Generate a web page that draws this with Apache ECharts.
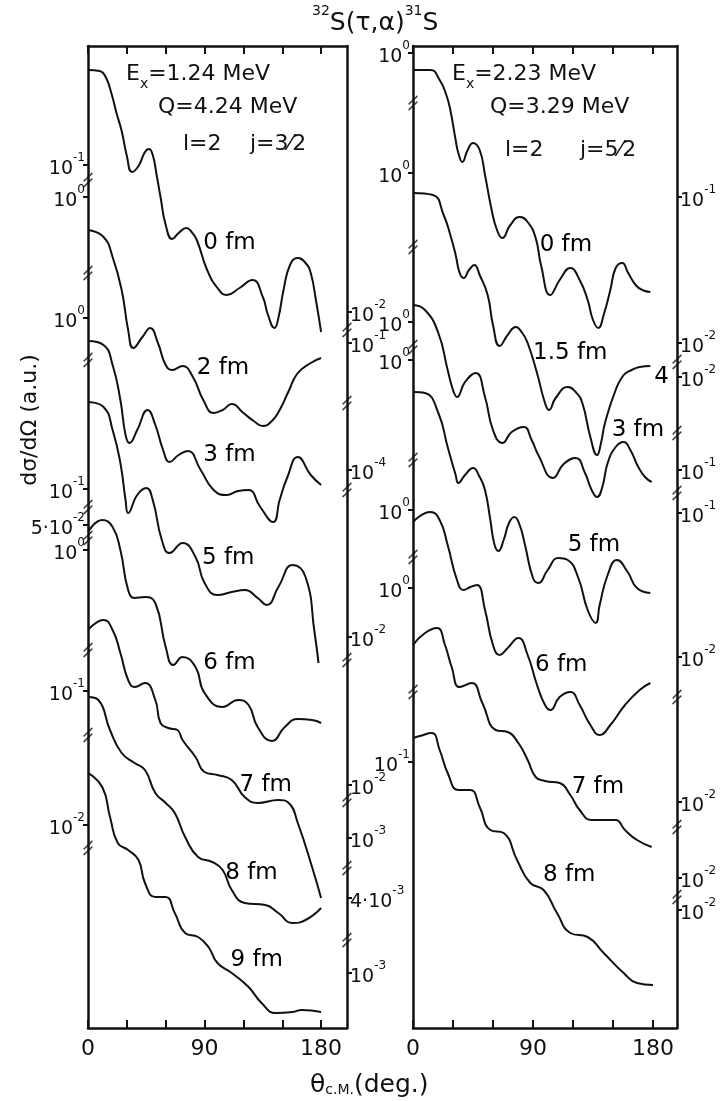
<!DOCTYPE html>
<html><head><meta charset="utf-8">
<script src="https://cdn.jsdelivr.net/npm/echarts@6/dist/echarts.min.js"></script>
<style>html,body{margin:0;padding:0;background:#fff}#c{width:721px;height:1101px}</style>
</head><body><div id="c"></div>
<script>
// ---- data: [angle (deg), vertical offset-log units] ----
const L0 = [[0,958],[9,957],[14,950],[18,935],[22,915],[26,897],[30,872],[34,856],[39,862],[44,876],[47,879],[50,873],[53,853],[56,831],[60,803],[65,789],[70,795],[76,800],[80,796],[84,788],[92,758],[100,740],[107,733],[117,740],[127,748],[135,731],[139,713],[144,700],[147,710],[151,738],[156,763],[162,770],[168,765],[172,755],[176,728],[180,696]];
const L2 = [[0,798],[12,791],[19,771],[26,738],[31,698],[35,680],[42,691],[48,700],[54,685],[60,663],[65,658],[73,662],[81,651],[89,628],[97,615],[104,618],[111,624],[120,615],[128,607],[135,602],[142,607],[148,618],[155,637],[162,655],[172,665],[180,670]];
const L3 = [[0,687],[12,683],[19,663],[25,628],[29,593],[32,585],[38,598],[46,618],[52,603],[58,578],[63,566],[70,573],[77,577],[87,558],[97,538],[107,533],[116,537],[124,538],[133,521],[143,506],[148,528],[154,551],[162,571],[172,553],[180,543]];
const L5 = [[0,626],[12,621],[19,598],[25,565],[29,528],[31,515],[38,533],[45,540],[50,528],[57,488],[63,475],[73,485],[83,471],[90,445],[100,433],[111,436],[121,438],[131,430],[138,423],[147,441],[158,463],[168,451],[175,395],[178,365]];
const L6 = [[0,496],[11,508],[19,501],[25,478],[31,438],[36,430],[44,431],[52,425],[60,381],[66,363],[73,371],[83,361],[90,335],[104,321],[116,328],[124,323],[131,301],[142,287],[152,301],[162,309],[173,308],[180,305]];
const L7 = [[0,398],[12,408],[19,398],[25,375],[31,348],[36,341],[44,345],[52,328],[56,305],[62,300],[69,298],[73,288],[83,271],[90,256],[100,253],[111,248],[121,231],[131,225],[147,228],[155,225],[162,205],[173,161],[180,130]];
const L8 = [[0,331],[8,328],[17,298],[26,275],[36,265],[44,258],[52,235],[60,225],[67,215],[75,191],[85,171],[96,166],[104,158],[111,138],[121,125],[137,123],[147,115],[158,105],[168,108],[180,120]];
const L9 = [[0,255],[11,241],[17,211],[23,185],[31,178],[39,168],[44,145],[52,131],[60,131],[67,115],[75,95],[85,91],[93,81],[100,65],[111,55],[124,41],[134,25],[145,15],[158,16],[165,18],[180,16]];

const R0 = [[0,958],[13,958],[20,948],[25,933],[28,918],[32,888],[34,875],[37,866],[41,878],[45,885],[50,878],[54,853],[59,818],[63,798],[67,790],[73,803],[80,811],[86,806],[92,790],[96,763],[103,733],[110,748],[118,760],[125,748],[131,728],[135,708],[139,700],[143,713],[148,738],[152,760],[157,765],[161,756],[167,743],[172,738],[178,736]];
const R15 = [[0,835],[15,833],[23,813],[28,793],[32,773],[35,755],[38,750],[42,758],[46,763],[50,753],[56,733],[60,703],[65,682],[71,693],[77,701],[82,695],[86,685],[93,655],[99,625],[102,618],[107,630],[116,641],[122,636],[127,625],[133,591],[138,573],[141,585],[144,605],[152,638],[158,653],[164,658],[170,661],[178,662]];
const R3 = [[0,723],[9,718],[19,695],[26,658],[30,638],[33,631],[39,646],[47,655],[54,631],[60,598],[67,585],[74,596],[83,601],[89,588],[94,573],[105,550],[113,564],[122,570],[129,555],[134,538],[138,531],[142,541],[146,565],[152,581],[158,586],[163,578],[169,561],[174,551],[179,546]];
const R5 = [[0,636],[9,635],[19,615],[26,581],[32,553],[34,545],[39,553],[45,560],[50,551],[54,538],[58,508],[61,484],[64,477],[68,488],[72,505],[76,511],[80,503],[84,483],[90,450],[94,445],[101,458],[109,470],[116,468],[124,450],[131,418],[137,405],[140,423],[146,453],[153,468],[161,456],[168,440],[178,435]];
const R6 = [[0,506],[13,516],[20,508],[26,483],[33,448],[38,438],[43,441],[48,443],[54,418],[60,383],[65,373],[71,380],[79,390],[86,373],[93,343],[99,323],[103,318],[110,331],[118,336],[125,323],[133,303],[140,293],[148,303],[159,323],[170,338],[178,345]];
const R7 = [[0,383],[9,395],[18,400],[24,383],[29,361],[35,341],[44,345],[52,325],[62,298],[71,296],[79,285],[86,268],[92,251],[99,247],[110,245],[118,233],[125,218],[134,208],[144,208],[152,208],[159,198],[168,188],[179,181]];
const R8 = [[0,290],[5,292],[14,295],[20,278],[26,255],[34,238],[43,238],[50,221],[58,198],[68,195],[78,168],[88,145],[98,138],[108,115],[118,95],[131,91],[143,75],[158,55],[168,45],[180,43]];

const leftCurves = [L0, L2, L3, L5, L6, L7, L8, L9];
const rightCurves = [R0, R15, R3, R5, R6, R7, R8];
const leftCurveLabels = [[89,785,'0 fm'],[84,660,'2 fm'],[89,573,'3 fm'],[88,470,'5 fm'],[89,365,'6 fm'],[117,243,'7 fm'],[106,155,'8 fm'],[110,68,'9 fm']];
const rightCurveLabels = [[95,783,'0 fm'],[90,675,'1.5 fm'],[149,598,'3 fm'],[116,483,'5 fm'],[91.5,363,'6 fm'],[119,241,'7 fm'],[97.5,153,'8 fm']];
const rightExtraText = [[181,651,'4']];

// tick labels on the four vertical axes: [position, label]
const leftPanelLeftTicks = [[863,'10^-1'],[831,'10^0'],[710,'10^0'],[539,'10^-1'],[503,'5·10^-2'],[478,'10^0'],[337,'10^-1'],[203,'10^-2']];
const leftPanelRightTicks = [[716,'10^-2'],[685,'10^-1'],[558,'10^-4'],[391,'10^-2'],[243,'10^-2'],[190,'10^-3'],[130,'4·10^-3'],[55,'10^-3']];
const rightPanelLeftTicks = [[975,'10^0'],[855,'10^0'],[706,'10^0'],[668,'10^0'],[518,'10^0'],[440,'10^0'],[266,'10^-1']];
const rightPanelRightTicks = [[831,'10^-1'],[685,'10^-2'],[651,'10^-2'],[558,'10^-1'],[515,'10^-1'],[371,'10^-2'],[226,'10^-2'],[150,'10^-2'],[118,'10^-2']];
// axis break marks
const leftPanelLeftBreaks = [848,755,668,521,490,378,293,180];
const leftPanelRightBreaks = [698,625,538,368,228,160,88];
const rightPanelLeftBreaks = [925,781,681,568,471,336];
const rightPanelRightBreaks = [666,595,535,331,201,131];
const xTickValues = [0,30,60,90,120,150,180];
const xLabelValues = [0,90,180];

// ---- chart ----
const INK = '#111111';
const FONT = 'DejaVu Sans';
const chart = echarts.init(document.getElementById('c'));

function toRich(s){
  const m = s.match(/^(.*?)10\^(.+)$/);
  if(!m) return '{b|'+s+'}';
  return '{b|'+m[1]+'10}{s|'+m[2]+'}';
}
const supRich = {
  b:{fontFamily:FONT,fontSize:19,color:INK,verticalAlign:'bottom',lineHeight:27},
  s:{fontFamily:FONT,fontSize:12,color:INK,verticalAlign:'top'}
};
function yAxisDef(grid, pos, ticks){
  const map = new Map(ticks.map(t=>[t[0],t[1]]));
  return {
    gridIndex:grid, type:'value', position:pos, min:0, max:982,
    axisLine:{show:true,onZero:false,lineStyle:{color:INK,width:2.5}},
    axisTick:{show:true,customValues:ticks.map(t=>t[0]),length:5,lineStyle:{color:INK,width:2}},
    axisLabel:{show:true,customValues:ticks.map(t=>t[0]),margin:3,
      formatter:v=>toRich(map.get(v)||''), rich:supRich},
    splitLine:{show:false}
  };
}
function xAxisDef(grid, max, pos, labels){
  return {
    gridIndex:grid, type:'value', position:pos, min:0, max:max,
    axisLine:{show:true,onZero:false,lineStyle:{color:INK,width:2.5}},
    axisTick:{show:true,inside:true,customValues:xTickValues,length:8,lineStyle:{color:INK,width:2}},
    axisLabel:{show:labels,customValues:xLabelValues,fontFamily:FONT,fontSize:22,color:INK,margin:10},
    splitLine:{show:false}
  };
}
const lineSeries = (data, g) => ({
  type:'line', xAxisIndex:g*2, yAxisIndex:g*2, data:data, smooth:0.5,
  showSymbol:false, symbol:'none', silent:true, clip:false,
  lineStyle:{color:INK,width:2}
});
const labelSeries = (data, g) => ({
  type:'scatter', xAxisIndex:g*2, yAxisIndex:g*2, data:data, symbolSize:0,
  itemStyle:{color:'#ffffff',opacity:1}, silent:true, clip:false,
  label:{show:true,position:'right',distance:0,formatter:p=>p.data[2],
    fontFamily:FONT,fontSize:23,color:'#000000',opacity:1}
});
const breakSeries = (vals, x, g, yi) => ({
  type:'scatter', xAxisIndex:g*2, yAxisIndex:yi, data:vals.map(v=>[x,v]),
  symbol:'path://M0,9L12,0M0,15L12,6', symbolSize:[11,14], symbolKeepAspect:true,
  itemStyle:{color:'rgba(0,0,0,0)',borderColor:INK,borderWidth:1.6},
  silent:true, clip:false, z:5
});

const series = [];
leftCurves.forEach(c=>series.push(lineSeries(c,0)));
rightCurves.forEach(c=>series.push(lineSeries(c,1)));
series.push(labelSeries(leftCurveLabels,0));
series.push(labelSeries(rightCurveLabels,1));
series.push(labelSeries(rightExtraText,1));
series.push(breakSeries(leftPanelLeftBreaks,0,0,0));
series.push(breakSeries(leftPanelRightBreaks,200,0,1));
series.push(breakSeries(rightPanelLeftBreaks,0,1,2));
series.push(breakSeries(rightPanelRightBreaks,198,1,3));

const annRich = {
  b:{fontFamily:FONT,fontSize:22,color:INK,verticalAlign:'top',lineHeight:28},
  sub:{fontFamily:FONT,fontSize:14,color:INK,verticalAlign:'bottom'},
  sup:{fontFamily:FONT,fontSize:14,color:INK,verticalAlign:'top'},
  t:{fontFamily:FONT,fontSize:25,color:INK,verticalAlign:'bottom',lineHeight:31},
  ts:{fontFamily:FONT,fontSize:14,color:INK,verticalAlign:'bottom'}
};
const txt = (x,y,text) => ({
  type:'text', x:x, y:y, silent:true,
  style:{text:text, rich:annRich, fill:INK, font:'22px '+FONT,
    align:'left', verticalAlign:'middle', textAlign:'left', textVerticalAlign:'middle'}
});

chart.setOption({
  animation:false,
  backgroundColor:'#ffffff',
  grid:[
    {left:88, top:46, width:259, height:982},
    {left:413, top:46, width:264, height:982}
  ],
  xAxis:[
    xAxisDef(0,200,'bottom',true), xAxisDef(0,200,'top',false),
    xAxisDef(1,198,'bottom',true), xAxisDef(1,198,'top',false)
  ],
  yAxis:[
    yAxisDef(0,'left',leftPanelLeftTicks), yAxisDef(0,'right',leftPanelRightTicks),
    yAxisDef(1,'left',rightPanelLeftTicks), yAxisDef(1,'right',rightPanelRightTicks)
  ],
  series:series,
  graphic:[
    txt(312,20,'{sup|32}{t|S(τ,α)}{sup|31}{t|S}'),
    {type:'text', x:30, y:420, rotation:Math.PI/2, silent:true,
      style:{text:'dσ/dΩ (a.u.)',fill:INK,font:'22px '+FONT,align:'center',verticalAlign:'middle',textAlign:'center',textVerticalAlign:'middle'}},
    txt(310,1082,'{t|θ}{ts|c.M.}{t|(deg.)}'),
    txt(126,77,'{b|E}{sub|x}{b|=1.24 MeV}'),
    txt(158,110,'{b|Q=4.24 MeV}'),
    txt(183,147,'{b|l=2}'),
    txt(250,147,'{b|j=3⁄2}'),
    txt(452,77,'{b|E}{sub|x}{b|=2.23 MeV}'),
    txt(490,110,'{b|Q=3.29 MeV}'),
    txt(505,153,'{b|l=2}'),
    txt(580,153,'{b|j=5⁄2}')
  ]
});
</script></body></html>
